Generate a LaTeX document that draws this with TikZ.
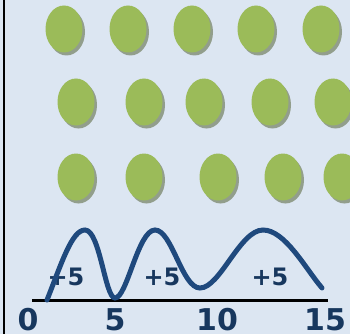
\documentclass[tikz,border=0pt]{standalone}
\usepackage{fontspec}
\setmainfont{DejaVu Sans}
\usetikzlibrary{shapes.geometric,positioning}
\definecolor{skyback}{RGB}{220,230,242}
\definecolor{peagreen}{RGB}{155,187,89}
\definecolor{peashadow}{RGB}{128,140,115}
\definecolor{hopblue}{RGB}{31,73,125}
\definecolor{numblue}{RGB}{23,55,94}
\tikzset{
    pea/.style={ellipse, fill=peagreen, minimum width=37, minimum height=47, inner sep=0pt,
        preaction={fill=peashadow, opacity=0.8, transform canvas={shift={(2.5pt,-3pt)}}}},
    hop/.style={line width=5pt, hopblue, line cap=round},
    numline/.style={line width=3pt, black},
    numlabel/.style={font=\bfseries\fontsize{30}{30}\selectfont, text=numblue, inner sep=0pt},
    hoplabel/.style={font=\bfseries\fontsize{24}{24}\selectfont, text=numblue, inner sep=0pt},
}
\begin{document}
\begin{tikzpicture}[x=1pt,y=-1pt]
    \fill[skyback] (0,0) rectangle (350,334);
    \useasboundingbox (0,0) rectangle (350,334);
    \draw[line width=2.7pt] (4,0) -- (4,334);

    % counters, three rows
    \node[pea] (a1) at (64,29) {};
    \node[pea] (a2) at (128,29) {};
    \node[pea] (a3) at (192,29) {};
    \node[pea] (a4) at (256,29) {};
    \node[pea] (a5) at (321,29) {};

    \node[pea] (b1) at (76,102) {};
    \node[pea] (b2) at (144,102) {};
    \node[pea] (b3) at (204,102) {};
    \node[pea] (b4) at (270,102) {};
    \node[pea] (b5) at (333,102) {};

    \node[pea] (c1) at (76,177) {};
    \node[pea] (c2) at (144,177) {};
    \node[pea] (c3) at (218,177) {};
    \node[pea] (c4) at (283,177) {};
    \node[pea] (c5) at (342,177) {};

    % number line
    \coordinate (lineL) at (32,300);
    \coordinate (lineR) at (328,300);
    \draw[numline] (lineL) -- (lineR);
    \node[numlabel] (n0) at (28,320) {0};
    \node[numlabel] (n5) at (115,320) {5};
    \node[numlabel] (n10) at (217,320) {10};
    \node[numlabel] (n15) at (325,320) {15};

    % jumps
    \node[hoplabel] (j1) at (66,277) {+5};
    \node[hoplabel] (j2) at (162,277) {+5};
    \node[hoplabel] (j3) at (270,277) {+5};
    \draw[hop] (47,300) .. controls (62,262) and (72,230) .. (85,230)
        .. controls (100,230) and (105,298) .. (115,298)
        .. controls (127,298) and (138,230) .. (155,230)
        .. controls (172,230) and (182,288) .. (200,288)
        .. controls (220,288) and (240,230) .. (263,230)
        .. controls (285,230) and (305,268) .. (322,288);
\end{tikzpicture}
\end{document}
